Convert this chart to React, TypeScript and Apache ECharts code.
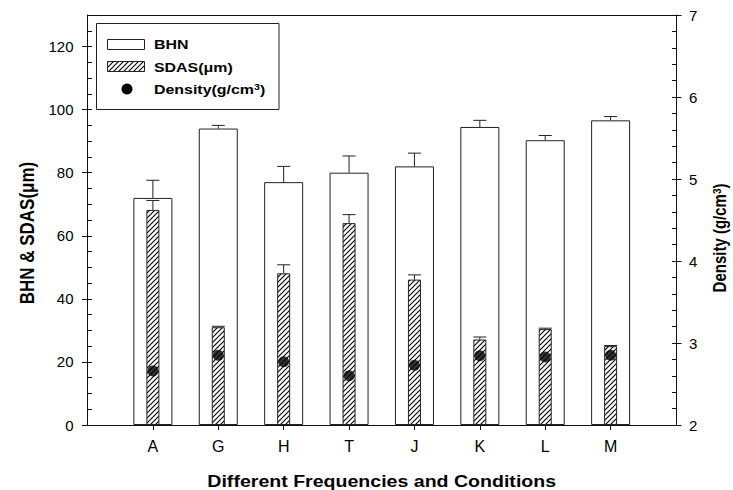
import React, { useEffect, useRef } from "react";
import * as echarts from "echarts";

const categories = ["A", "G", "H", "T", "J", "K", "L", "M"];
const bhn = [72, 94, 77, 80, 82, 94.5, 90.3, 96.6];
const bhnErr = [5.6, 1.0, 5.0, 5.3, 4.2, 2.1, 1.5, 1.2];
const sdas = [68.2, 31, 48.1, 64, 46.1, 27.1, 30.4, 25];
const sdasErr = [3.0, 0.3, 2.7, 2.7, 1.5, 0.8, 0.3, 0.2];
const density = [2.66, 2.85, 2.77, 2.6, 2.73, 2.845, 2.83, 2.85];
const leftTicks = [0, 20, 40, 60, 80, 100, 120];
const rightTicks = [2, 3, 4, 5, 6, 7];

const FONT = "'Liberation Sans', Arial, Helvetica, sans-serif";
const INK = "#111";
const STRETCH = 1.18;

function makeHatch() {
  const s = 5;
  const c = document.createElement("canvas");
  c.width = s;
  c.height = s;
  const ctx = c.getContext("2d")!;
  ctx.fillStyle = "#fff";
  ctx.fillRect(0, 0, s, s);
  ctx.strokeStyle = "#000";
  ctx.lineWidth = 1.1;
  ctx.beginPath();
  ctx.moveTo(0, s);
  ctx.lineTo(s, 0);
  ctx.moveTo(-1, 1);
  ctx.lineTo(1, -1);
  ctx.moveTo(s - 1, s + 1);
  ctx.lineTo(s + 1, s - 1);
  ctx.stroke();
  return c;
}

export default function App() {
  const ref = useRef<HTMLDivElement>(null);
  useEffect(() => {
    if (!ref.current) return;
    const chart = echarts.init(ref.current, null, { renderer: "svg" });
    const hatch = makeHatch();
    const pattern: any = { image: hatch, repeat: "repeat" };
    const xPos = categories.map((_, i) => i + 1);

    const errRender = (params: any, api: any) => {
      const x = api.value(0);
      const v = api.value(1);
      const e = api.value(2);
      const p0 = api.coord([x, v]);
      const p1 = api.coord([x, v + e]);
      const st = { stroke: "#222", lineWidth: 1 };
      return {
        type: "group",
        children: [
          { type: "line", shape: { x1: p0[0], y1: p0[1], x2: p1[0], y2: p1[1] }, style: st },
          { type: "line", shape: { x1: p1[0] - 6.5, y1: p1[1], x2: p1[0] + 6.5, y2: p1[1] }, style: st },
        ],
      };
    };

    const lineStyle = { color: INK, width: 1 };
    const labelBase = { color: "#000", fontFamily: FONT };
    const richMain = (size: number) => ({ font: `bold ${size}px ${FONT}`, fill: "#000" });
    const richSup = (size: number) => ({ font: `bold ${size}px ${FONT}`, fill: "#000", verticalAlign: "top" });

    const option: any = {
      animation: false,
      backgroundColor: "#fff",
      grid: { left: 87.5, right: 57, top: 15, bottom: 65, containLabel: false, outerBoundsMode: "none" },
      xAxis: [
        {
          type: "value", position: "bottom", min: 0, max: 9, interval: 1,
          axisLine: { show: true, onZero: false, lineStyle },
          axisTick: { show: true, inside: false, length: 5, customValues: xPos, lineStyle },
          axisLabel: {
            ...labelBase, fontSize: 16, margin: 13, customValues: xPos,
            formatter: (v: number) => categories[Math.round(v) - 1] ?? "",
          },
          splitLine: { show: false },
        },
        { type: "value", position: "bottom", min: 0, max: 9, show: false },
        {
          type: "value", position: "top", min: 0, max: 9, interval: 1,
          axisLine: { show: true, onZero: false, lineStyle },
          axisTick: { show: false }, axisLabel: { show: false }, splitLine: { show: false },
        },
      ],
      yAxis: [
        {
          type: "value", position: "left", min: 0, max: 130, interval: 5,
          axisLine: { show: true, onZero: false, lineStyle },
          axisTick: { show: true, inside: true, length: 4.5, lineStyle },
          axisLabel: {
            ...labelBase, fontSize: 15, margin: 14,
            formatter: (v: number) => (leftTicks.indexOf(Math.round(v)) >= 0 && Math.abs(v - Math.round(v)) < 1e-6 ? String(Math.round(v)) : ""),
          },
          splitLine: { show: false },
        },
        {
          type: "value", position: "right", min: 2, max: 7, interval: 0.2,
          axisLine: { show: true, onZero: false, lineStyle },
          axisTick: { show: true, inside: true, length: 4, lineStyle },
          axisLabel: {
            ...labelBase, fontSize: 15, margin: 13,
            formatter: (v: number) => {
              const r = Math.round(v);
              return Math.abs(v - r) < 1e-6 && rightTicks.indexOf(r) >= 0 ? String(r) : "";
            },
          },
          splitLine: { show: false },
        },
        {
          type: "value", position: "left", min: 0, max: 130, interval: 20,
          axisLine: { show: false, onZero: false },
          axisTick: { show: true, inside: false, length: 5.5, customValues: leftTicks, lineStyle },
          axisLabel: { show: false }, splitLine: { show: false },
        },
        {
          type: "value", position: "right", min: 2, max: 7, interval: 1,
          axisLine: { show: false, onZero: false },
          axisTick: { show: true, inside: false, length: 5.5, customValues: rightTicks, lineStyle },
          axisLabel: { show: false }, splitLine: { show: false },
        },
      ],
      series: [
        {
          name: "BHN", type: "bar", xAxisIndex: 0, yAxisIndex: 0, barWidth: 39, z: 2,
          data: xPos.map((x, i) => [x, bhn[i]]),
          itemStyle: { color: "#fff", borderColor: "#222", borderWidth: 1 },
        },
        {
          name: "SDAS(μm)", type: "bar", xAxisIndex: 1, yAxisIndex: 0, barWidth: 13, z: 3,
          data: xPos.map((x, i) => [x, sdas[i]]),
          itemStyle: { color: pattern, borderColor: "#222", borderWidth: 1 },
        },
        {
          name: "BHN err", type: "custom", xAxisIndex: 0, yAxisIndex: 0, z: 4,
          renderItem: errRender,
          data: xPos.map((x, i) => [x, bhn[i], bhnErr[i]]),
        },
        {
          name: "SDAS err", type: "custom", xAxisIndex: 0, yAxisIndex: 0, z: 4,
          renderItem: errRender,
          data: xPos.map((x, i) => [x, sdas[i], sdasErr[i]]),
        },
        {
          name: "Density", type: "scatter", xAxisIndex: 0, yAxisIndex: 1, z: 5,
          symbol: "circle", symbolSize: 11,
          itemStyle: { color: "#000" },
          data: xPos.map((x, i) => [x, density[i]]),
        },
      ],
      graphic: [
        {
          type: "rect", z: 10,
          shape: { x: 96.5, y: 23.5, width: 182.5, height: 86 },
          style: { fill: "#fff", stroke: "#222", lineWidth: 1 },
        },
        {
          type: "rect", z: 11,
          shape: { x: 107.5, y: 39.5, width: 37, height: 10 },
          style: { fill: "#fff", stroke: "#222", lineWidth: 1 },
        },
        {
          type: "rect", z: 11,
          shape: { x: 107.5, y: 61.5, width: 37, height: 10 },
          style: { fill: pattern, stroke: "#222", lineWidth: 1 },
        },
        {
          type: "circle", z: 11,
          shape: { cx: 127, cy: 89, r: 5.5 },
          style: { fill: "#000" },
        },
        {
          type: "text", z: 11, x: 154, y: 44.5, scaleX: STRETCH,
          style: { text: "BHN", font: `bold 13.5px ${FONT}`, fill: "#000", verticalAlign: "middle" },
        },
        {
          type: "text", z: 11, x: 154, y: 67, scaleX: STRETCH,
          style: { text: "SDAS(μm)", font: `bold 13.5px ${FONT}`, fill: "#000", verticalAlign: "middle" },
        },
        {
          type: "text", z: 11, x: 154, y: 89, scaleX: STRETCH,
          style: {
            text: "{a|Density(g/cm}{s|3}{a|)}",
            font: `bold 13.5px ${FONT}`,
            verticalAlign: "middle",
            rich: { a: richMain(13.5), s: richSup(9) },
          },
        },
        {
          type: "text", x: 27, y: 233, rotation: Math.PI / 2, scaleY: STRETCH,
          style: { text: "BHN & SDAS(μm)", font: `bold 17px ${FONT}`, fill: "#000", align: "center", verticalAlign: "middle" },
        },
        {
          type: "text", x: 720, y: 238, rotation: Math.PI / 2, scaleY: STRETCH,
          style: {
            text: "{a|Density (g/cm}{s|3}{a|)}",
            font: `bold 15px ${FONT}`,
            align: "center", verticalAlign: "middle",
            rich: { a: richMain(15), s: richSup(10) },
          },
        },
        {
          type: "text", x: 381.7, y: 481.5, scaleX: 1.2,
          style: { text: "Different Frequencies and Conditions", font: `bold 16.3px ${FONT}`, fill: "#000", align: "center", verticalAlign: "middle" },
        },
      ],
    };
    chart.setOption(option);
    return () => chart.dispose();
  }, []);
  return (
    <div
      ref={ref}
      style={{ position: "fixed", left: 0, top: 0, width: 733, height: 490, background: "#fff" }}
    />
  );
}
